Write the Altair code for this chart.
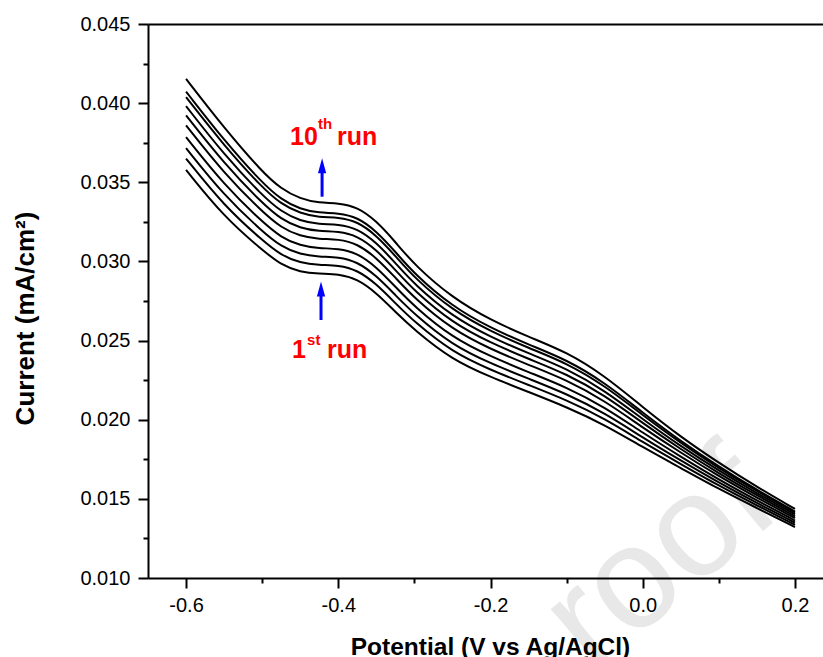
import altair as alt
import pandas as pd

FONT = "Liberation Sans"

potential = [-0.6, -0.55, -0.5, -0.475, -0.45, -0.425, -0.4, -0.375, -0.35, -0.325, -0.3,
             -0.25, -0.2, -0.15, -0.1, -0.05, 0.0, 0.05, 0.1, 0.15, 0.2]

run1 = [0.03578, 0.03281, 0.03072, 0.02978, 0.02933, 0.02921, 0.02921, 0.02889, 0.02801, 0.02681, 0.02567,
        0.02377, 0.02270, 0.02175, 0.02080, 0.01968, 0.01826, 0.01695, 0.01562, 0.01442, 0.01322]
run2 = [0.03650, 0.03351, 0.03134, 0.03038, 0.02991, 0.02977, 0.02977, 0.02946, 0.02858, 0.02736, 0.02618,
        0.02426, 0.02315, 0.02219, 0.02124, 0.02007, 0.01858, 0.01720, 0.01583, 0.01459, 0.01336]
run3 = [0.03716, 0.03416, 0.03190, 0.03093, 0.03044, 0.03029, 0.03029, 0.02998, 0.02910, 0.02787, 0.02666,
        0.02471, 0.02356, 0.02259, 0.02164, 0.02042, 0.01887, 0.01742, 0.01602, 0.01474, 0.01349]
run4 = [0.03785, 0.03483, 0.03250, 0.03151, 0.03099, 0.03082, 0.03082, 0.03053, 0.02965, 0.02840, 0.02715,
        0.02518, 0.02400, 0.02300, 0.02205, 0.02080, 0.01917, 0.01766, 0.01621, 0.01490, 0.01363]
run5 = [0.03860, 0.03556, 0.03314, 0.03213, 0.03159, 0.03141, 0.03141, 0.03112, 0.03024, 0.02898, 0.02768,
        0.02569, 0.02446, 0.02346, 0.02251, 0.02120, 0.01950, 0.01791, 0.01643, 0.01507, 0.01378]
run6 = [0.03923, 0.03618, 0.03368, 0.03266, 0.03210, 0.03190, 0.03190, 0.03162, 0.03074, 0.02946, 0.02814,
        0.02612, 0.02486, 0.02384, 0.02289, 0.02154, 0.01978, 0.01813, 0.01661, 0.01522, 0.01390]
run7 = [0.03981, 0.03674, 0.03417, 0.03314, 0.03256, 0.03235, 0.03235, 0.03208, 0.03120, 0.02990, 0.02855,
        0.02651, 0.02522, 0.02419, 0.02324, 0.02185, 0.02003, 0.01832, 0.01678, 0.01535, 0.01402]
run8 = [0.04038, 0.03731, 0.03466, 0.03362, 0.03303, 0.03279, 0.03279, 0.03253, 0.03165, 0.03035, 0.02896,
        0.02691, 0.02558, 0.02453, 0.02358, 0.02216, 0.02028, 0.01852, 0.01694, 0.01548, 0.01413]
run9 = [0.04073, 0.03764, 0.03496, 0.03391, 0.03330, 0.03306, 0.03306, 0.03280, 0.03192, 0.03061, 0.02921,
        0.02714, 0.02580, 0.02474, 0.02379, 0.02235, 0.02044, 0.01864, 0.01704, 0.01556, 0.01420]
run10 = [0.04153, 0.03843, 0.03565, 0.03458, 0.03395, 0.03369, 0.03369, 0.03344, 0.03256, 0.03123, 0.02978,
         0.02769, 0.02630, 0.02523, 0.02428, 0.02278, 0.02079, 0.01891, 0.01727, 0.01575, 0.01436]

runs = [run1, run2, run3, run4, run5, run6, run7, run8, run9, run10]

x_major_ticks = [-0.6, -0.4, -0.2, 0.0, 0.2]
x_minor_ticks = [-0.5, -0.3, -0.1, 0.1]
y_major_ticks = [0.010, 0.015, 0.020, 0.025, 0.030, 0.035, 0.040, 0.045]
y_minor_ticks = [0.0125, 0.0175, 0.0225, 0.0275, 0.0325, 0.0375, 0.0425]

# annotation text (red)
ann_text = ["10", "th", "run", "1", "st", "run"]
ann_x = [-0.4634, -0.4266, -0.4016, -0.4608, -0.4410, -0.4148]
ann_y = [0.03736, 0.03837, 0.03736, 0.02390, 0.02472, 0.02390]
ann_size = [25, 15, 25, 25, 15, 25]

# arrows (blue)
arrow_x = [-0.4213, -0.4227]
arrow_y0 = [0.03409, 0.02630]
arrow_y1 = [0.03565, 0.02801]
arrow_head_y = [0.03605, 0.02826]

# watermark
wm_text = ["roof"]
wm_x = [0.0227]
wm_y = [0.01114]

rows = []
for i, vals in enumerate(runs, start=1):
    for p, c in zip(potential, vals):
        rows.append({"potential": p, "current": c, "run": i})
df = pd.DataFrame(rows)

df_ann = pd.DataFrame({"t": ann_text, "x": ann_x, "y": ann_y, "s": ann_size})
df_arr = pd.DataFrame({"x": arrow_x, "y0": arrow_y0, "y1": arrow_y1, "yh": arrow_head_y})
df_wm = pd.DataFrame({"t": wm_text, "x": wm_x, "y": wm_y})

xs = alt.Scale(domain=[-0.65, 0.2368], nice=False, zero=False)
ys = alt.Scale(domain=[0.010, 0.045], nice=False, zero=False)

x_major = alt.Axis(
    orient="bottom", values=x_major_ticks,
    labelExpr="replace(format(datum.value, '.1f'), '\u2212', '-')",
    tickSize=10, tickWidth=2, tickColor="black",
    domainColor="black", domainWidth=2,
    labelFont=FONT, labelFontSize=20, labelColor="black", labelPadding=7,
    labelFlush=False, labelOverlap=False, grid=False, zindex=2,
    title="Potential (V vs Ag/AgCl)", titleFont=FONT, titleFontSize=24.5,
    titleFontWeight="bold", titleColor="black", titleX=342, titleY=76,
    titleAlign="center", titleBaseline="alphabetic",
)
y_major = alt.Axis(
    orient="left", values=y_major_ticks, format=".3f",
    tickSize=10, tickWidth=2, tickColor="black",
    domainColor="black", domainWidth=2,
    labelFont=FONT, labelFontSize=20, labelColor="black", labelPadding=8,
    labelFlush=False, labelOverlap=False, grid=False, zindex=2,
    title="Current (mA/cm²)", titleFont=FONT, titleFontSize=26,
    titleFontWeight="bold", titleColor="black", titleAngle=270,
    titleX=-115, titleY=294, titleAlign="center", titleBaseline="alphabetic",
)
x_minor = alt.Axis(
    orient="bottom", values=x_minor_ticks, labels=False, domain=False,
    tickSize=5, tickWidth=2, tickColor="black", grid=False, title="", zindex=2,
)
y_minor = alt.Axis(
    orient="left", values=y_minor_ticks, labels=False, domain=False,
    tickSize=5, tickWidth=2, tickColor="black", grid=False, title="", zindex=2,
)
x_top = alt.Axis(
    orient="top", ticks=False, labels=False, domainColor="black",
    domainWidth=2, grid=False, title="", zindex=2,
)

watermark = alt.Chart(df_wm).mark_text(
    font=FONT, fontSize=145, angle=320, color="#e8e8e8",
    align="center", baseline="middle",
).encode(
    x=alt.X("x:Q", scale=xs, axis=x_top),
    y=alt.Y("y:Q", scale=ys, axis=None),
    text="t:N",
)

lines = alt.Chart(df).mark_line(
    color="black", strokeWidth=2, interpolate="basis"
).encode(
    x=alt.X("potential:Q", scale=xs, axis=x_major),
    y=alt.Y("current:Q", scale=ys, axis=y_major),
    detail="run:N",
)

shafts = alt.Chart(df_arr).mark_rule(color="#0000ff", strokeWidth=3).encode(
    x=alt.X("x:Q", scale=xs, axis=x_minor),
    y=alt.Y("y0:Q", scale=ys, axis=y_minor),
    y2="y1:Q",
)

heads = alt.Chart(df_arr).mark_point(
    shape="M0,-1L0.55,1L-0.55,1Z", size=225, filled=True,
    color="#0000ff", opacity=1, strokeWidth=0,
).encode(
    x=alt.X("x:Q", scale=xs, axis=None),
    y=alt.Y("yh:Q", scale=ys, axis=None),
)

labels = alt.Chart(df_ann).mark_text(
    font=FONT, fontWeight="bold", color="#ff0000",
    align="left", baseline="alphabetic",
).encode(
    x=alt.X("x:Q", scale=xs, axis=None),
    y=alt.Y("y:Q", scale=ys, axis=None),
    text="t:N",
    size=alt.Size("s:Q", scale=None, legend=None),
)

chart = alt.layer(watermark, lines, shafts, heads, labels).resolve_axis(
    x="independent", y="independent"
).properties(
    width=675, height=554,
    padding={"left": 148, "top": 24, "right": 0, "bottom": 79},
    autosize=alt.AutoSizeParams(type="none"),
    background="white",
).configure_view(stroke=None)

chart.save("out.html", embed_options={"renderer": "svg", "actions": False})
